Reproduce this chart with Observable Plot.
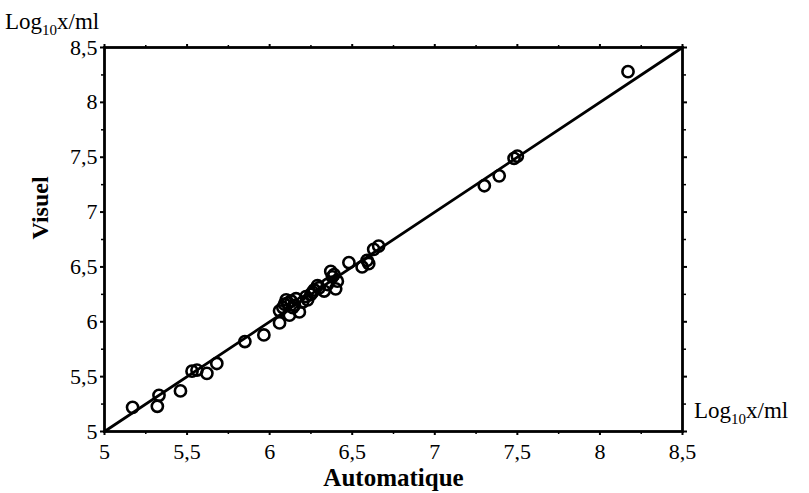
<!DOCTYPE html>
<html>
<head>
<meta charset="utf-8">
<script src="https://cdn.jsdelivr.net/npm/d3@7"></script>
<script src="https://cdn.jsdelivr.net/npm/@observablehq/plot@0.6"></script>
<style>
  html, body { margin: 0; padding: 0; background: #fff; }
  svg text { font-family: "Liberation Serif", "Times New Roman", serif !important; font-variant: normal !important; }
</style>
</head>
<body>
<div id="chart"></div>
<script>
// Data (log10 x/ml)
const automatique = [5.17, 5.33, 5.32, 5.46, 5.53, 5.56, 5.62, 5.68, 5.85, 5.965,
  6.06, 6.06, 6.09, 6.12, 6.10, 6.16, 6.18, 6.14, 6.20, 6.25,
  6.23, 6.29, 6.27, 6.33, 6.37, 6.39, 6.41, 6.40, 6.48, 6.56,
  6.59, 6.60, 6.63, 6.66, 7.30, 7.39, 7.48, 7.50, 8.17,
  6.08, 6.11, 6.13, 6.15, 6.22, 6.26, 6.30, 6.35, 6.38];
const visuel = [5.22, 5.33, 5.23, 5.37, 5.55, 5.56, 5.53, 5.62, 5.82, 5.88,
  5.99, 6.10, 6.16, 6.06, 6.20, 6.21, 6.09, 6.13, 6.18, 6.25,
  6.20, 6.33, 6.29, 6.28, 6.46, 6.43, 6.37, 6.30, 6.54, 6.50,
  6.56, 6.53, 6.66, 6.69, 7.24, 7.33, 7.49, 7.51, 8.28,
  6.13, 6.17, 6.19, 6.15, 6.23, 6.27, 6.31, 6.34, 6.41];
// Fitted line (identity)
const lineX = [5, 8.5];
const lineY = [5, 8.5];
// Tick values and labels
const majorTicks = [5, 5.5, 6, 6.5, 7, 7.5, 8, 8.5];
const minorTicks = [5.25, 5.75, 6.25, 6.75, 7.25, 7.75, 8.25];
const fmt = d => String(d).replace(".", ",");
const xTitle = "Automatique";
const yTitle = "Visuel";

const points = automatique.map((a, i) => ({a, v: visuel[i]}));
const fitLine = lineX.map((x, i) => ({x, y: lineY[i]}));

const font = "Liberation Serif, Times New Roman, serif";
const none = () => "";
const ax = {fontFamily: font, label: null};

const chart = Plot.plot({
  width: 809,
  height: 493,
  marginLeft: 104,
  marginRight: 127,
  marginTop: 47,
  marginBottom: 62,
  style: {fontFamily: font, fontSize: "21px", color: "black", background: "white"},
  x: {domain: [5, 8.5], axis: null},
  y: {domain: [5, 8.5], axis: null},
  marks: [
    Plot.axisX(majorTicks, {...ax, anchor: "bottom", tickSize: 4, tickPadding: 8, tickFormat: fmt, fontSize: 22, strokeWidth: 2}),
    Plot.axisX(minorTicks, {...ax, anchor: "bottom", tickSize: 3, tickFormat: none, strokeWidth: 1.5}),
    Plot.axisX(majorTicks, {...ax, anchor: "top", tickSize: 4, tickFormat: none, strokeWidth: 2}),
    Plot.axisX(minorTicks, {...ax, anchor: "top", tickSize: 3, tickFormat: none, strokeWidth: 1.5}),
    Plot.axisY(majorTicks, {...ax, anchor: "left", tickSize: 4, tickPadding: 3, tickFormat: fmt, fontSize: 22, strokeWidth: 2}),
    Plot.axisY(minorTicks, {...ax, anchor: "left", tickSize: 3, tickFormat: none, strokeWidth: 1.5}),
    Plot.axisY(majorTicks, {...ax, anchor: "right", tickSize: 4, tickFormat: none, strokeWidth: 2}),
    Plot.axisY(minorTicks, {...ax, anchor: "right", tickSize: 3, tickFormat: none, strokeWidth: 1.5}),
    Plot.frame({stroke: "black", strokeWidth: 2.8}),
    Plot.line(fitLine, {x: "x", y: "y", stroke: "black", strokeWidth: 2.8}),
    Plot.dot(points, {x: "a", y: "v", r: 5.6, stroke: "black", strokeWidth: 2.6, fill: "none"}),
    Plot.text([xTitle], {frameAnchor: "bottom", dy: 54, fontFamily: font, fontSize: 25, fontWeight: "bold", fill: "black"}),
    Plot.text([yTitle], {frameAnchor: "left", dx: -64, rotate: -90, fontFamily: font, fontSize: 24, fontWeight: "bold", fill: "black"})
  ]
});

document.getElementById("chart").appendChild(chart);

const svg = d3.select(chart);
svg.selectAll("g").attr("font-family", font);

// Unit labels with a real subscript
function unitLabel(x, y) {
  const t = svg.append("text")
    .attr("x", x).attr("y", y)
    .attr("text-anchor", "start")
    .attr("font-size", 23)
    .attr("fill", "black");
  t.append("tspan").text("Log");
  t.append("tspan").attr("font-size", 15).attr("dy", 6).text("10");
  t.append("tspan").attr("dy", -6).text("x/ml");
}
unitLabel(5, 29);
unitLabel(694, 418);
</script>
</body>
</html>
